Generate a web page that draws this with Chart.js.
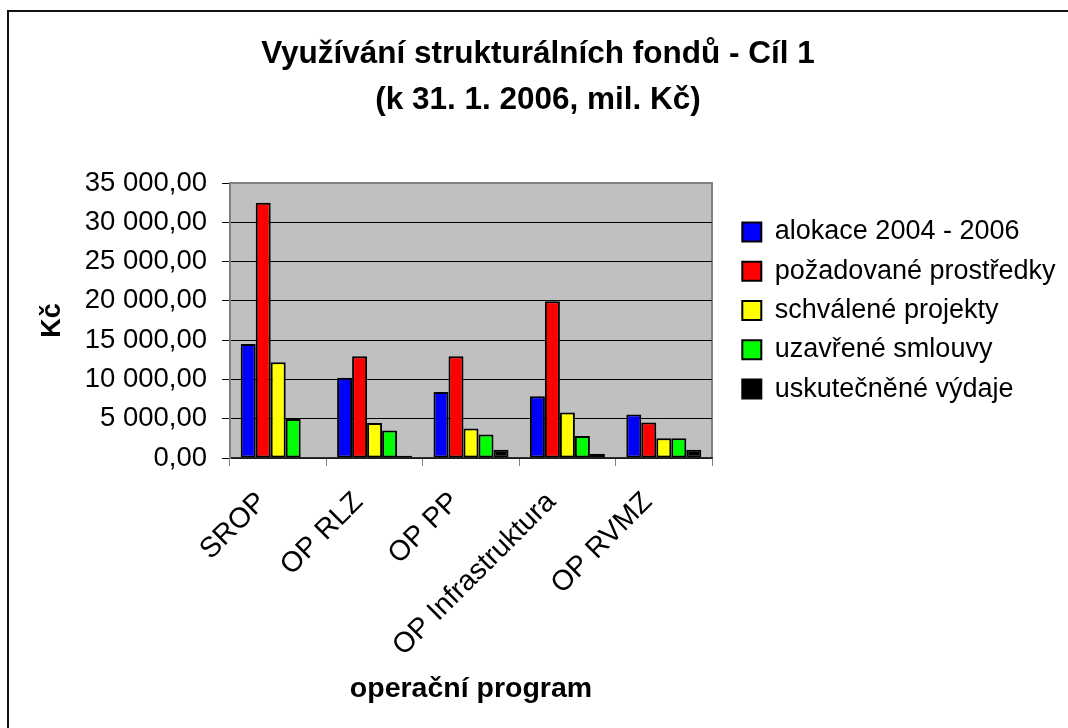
<!DOCTYPE html>
<html>
<head>
<meta charset="utf-8">
<script src="https://cdn.jsdelivr.net/npm/chart.js@4.4.1/dist/chart.umd.min.js"></script>
<style>
  html, body { margin: 0; padding: 0; background: #ffffff; }
  #wrap { position: relative; width: 1068px; height: 728px; }
  canvas { display: block; }
</style>
</head>
<body>
<div id="wrap"><canvas id="c" width="1068" height="728"></canvas></div>
<script>
// ---- data ----
const titleLines = ['Využívání strukturálních fondů - Cíl 1', '(k 31. 1. 2006, mil. Kč)'];
const categories = ['SROP', 'OP RLZ', 'OP PP', 'OP Infrastruktura', 'OP RVMZ'];
const seriesNames = ['alokace 2004 - 2006', 'požadované prostředky', 'schválené projekty', 'uzavřené smlouvy', 'uskutečněné výdaje'];
const alokace = [14500, 10200, 8400, 7850, 5550];
const pozadovane = [32500, 12950, 12950, 19950, 4520];
const schvalene = [12200, 4450, 3750, 5800, 2500];
const uzavrene = [4950, 3500, 3000, 2800, 2500];
const uskutecnene = [0, 300, 1050, 550, 1050];
const seriesColors = ['#0000FF', '#FF0000', '#FFFF00', '#00FF00', '#000000'];
const yTickLabels = ['0,00', '5 000,00', '10 000,00', '15 000,00', '20 000,00', '25 000,00', '30 000,00', '35 000,00'];
const xAxisTitle = 'operační program';
const yAxisTitle = 'Kč';

const seriesValues = [alokace, pozadovane, schvalene, uzavrene, uskutecnene];

Chart.defaults.font.family = "'Liberation Sans', Arial, sans-serif";
Chart.defaults.color = '#000000';

const plotBackground = {
  id: 'plotBackground',
  beforeDraw(chart) {
    const { ctx, chartArea: a } = chart;
    ctx.save();
    // outer chart border (left and top visible)
    ctx.fillStyle = '#111111';
    ctx.fillRect(7, 10, 2, 718);
    ctx.fillRect(7, 10, 1061, 2);
    // plot area
    ctx.fillStyle = '#C0C0C0';
    ctx.fillRect(a.left, a.top, a.right - a.left, a.bottom - a.top);
    ctx.strokeStyle = '#808080';
    ctx.lineWidth = 2;
    ctx.strokeRect(a.left, a.top, a.right - a.left, a.bottom - a.top);
    ctx.restore();
  }
};

const legendPlacement = {
  id: 'legendPlacement',
  beforeLayout(chart) {
    const lg = chart.legend;
    if (lg && !lg._fitWrapped) {
      const orig = lg.fit;
      lg.fit = function () { orig.call(this); this.width = 356; };
      lg._fitWrapped = true;
    }
  },
  afterLayout(chart) {
    const lg = chart.legend;
    if (!lg) return;
    lg.left += 18; lg.right += 18;
    lg.top -= 10; lg.bottom -= 10;
  }
};

new Chart(document.getElementById('c'), {
  type: 'bar',
  data: {
    labels: categories,
    datasets: seriesNames.map((name, i) => ({
      label: name,
      data: seriesValues[i],
      backgroundColor: seriesColors[i],
      borderColor: '#000000',
      borderWidth: 2,
      borderSkipped: false,
      categoryPercentage: 0.778,
      barPercentage: 1.0
    }))
  },
  options: {
    responsive: false,
    animation: false,
    devicePixelRatio: 1,
    layout: { padding: { left: 8, top: 10, right: 0, bottom: 0 } },
    plugins: {
      title: {
        display: true,
        text: titleLines,
        color: '#000000',
        font: { size: 31.5, weight: 'bold', lineHeight: 46 / 31.5 },
        padding: { top: 21.5, bottom: 59.5 }
      },
      legend: {
        display: true,
        position: 'right',
        fullSize: false,
        align: 'center',
        labels: {
          boxWidth: 19,
          boxHeight: 19,
          padding: 12.3,
          color: '#000000',
          font: { size: 27 }
        }
      },
      tooltip: { enabled: false }
    },
    scales: {
      x: {
        grid: {
          display: true,
          drawOnChartArea: false,
          drawTicks: true,
          tickLength: 8,
          color: '#808080',
          offset: true
        },
        border: { display: true, color: '#303030', width: 1.5 },
        ticks: {
          autoSkip: false,
          minRotation: 45,
          maxRotation: 45,
          padding: 19.5,
          labelOffset: -16,
          color: '#000000',
          font: { size: 28.5 }
        },
        title: {
          display: true,
          text: xAxisTitle,
          color: '#000000',
          font: { size: 28.5, weight: 'bold' },
          padding: { top: 0, bottom: 21.5 }
        },
        afterFit(scale) { scale.height = 270; }
      },
      y: {
        min: 0,
        max: 35000,
        grid: {
          color: (c) => (c.tick && c.tick.value === 35000) ? 'rgba(0,0,0,0)' : '#000000',
          tickColor: '#000000',
          lineWidth: 1,
          tickLength: 8
        },
        border: { display: true, color: '#808080', width: 2 },
        ticks: {
          stepSize: 5000,
          padding: 15,
          color: '#000000',
          font: { size: 27.5 },
          callback: (value, index) => yTickLabels[index]
        },
        title: {
          display: true,
          text: yAxisTitle,
          color: '#000000',
          font: { size: 27, weight: 'bold' },
          padding: { top: 28.3, bottom: 0 }
        },
        afterFit(scale) { scale.width = 222; }
      }
    }
  },
  plugins: [plotBackground, legendPlacement]
});
</script>
</body>
</html>
